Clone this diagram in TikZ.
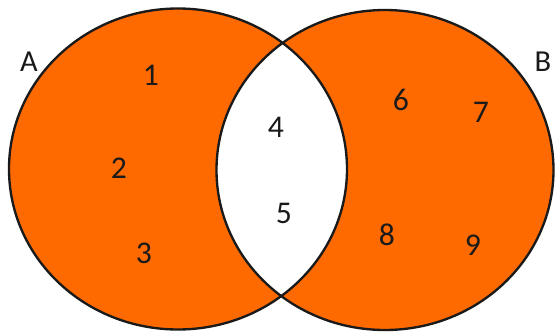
\documentclass[tikz,border=0pt]{standalone}
\usepackage{fontspec}
\setmainfont{Carlito}
\usepackage{tikz}
\usetikzlibrary{
  positioning,
  calc
}
\definecolor{vnFill}{HTML}{FF6A00}
\definecolor{vnLine}{HTML}{1A1A1A}
\tikzset{
  outline/.style={draw=vnLine, line width=2pt},
  member/.style={font=\fontsize{27}{31}\selectfont, text=vnLine, inner sep=0pt},
  setname/.style={font=\fontsize{26}{30}\selectfont, text=vnLine, inner sep=0pt}
}

\begin{document}
\begin{tikzpicture}[x=0.03cm, y=-0.03cm]
  \useasboundingbox (0,0) rectangle (556,334);
  % orange parts
  \fill[vnFill] (178,169) ellipse [x radius=169, y radius=160.5];
  \fill[vnFill] (385,170) ellipse [x radius=168.5, y radius=160];
  % the common part stays white
  \begin{scope}
    \clip (178,169) ellipse [x radius=169, y radius=160.5];
    \fill[white] (385,170) ellipse [x radius=168.5, y radius=160];
  \end{scope}
  \draw[outline] (178,169) ellipse [x radius=169, y radius=160.5];
  \draw[outline] (385,170) ellipse [x radius=168.5, y radius=160];
  % set names
  \node[setname] (lblA) at (29,62) {A};
  \node[setname] (lblB) at (543,62) {B};
  % members
  \node[member] (n1) at (151,75) {1};
  \node[member] (n2) at (119,168) {2};
  \node[member] (n3) at (144,253) {3};
  \node[member] (n4) at (276,127) {4};
  \node[member] (n5) at (284,213) {5};
  \node[member] (n6) at (401,100) {6};
  \node[member] (n7) at (481,112) {7};
  \node[member] (n8) at (387,235) {8};
  \node[member] (n9) at (473,245) {9};
\end{tikzpicture}
\end{document}
